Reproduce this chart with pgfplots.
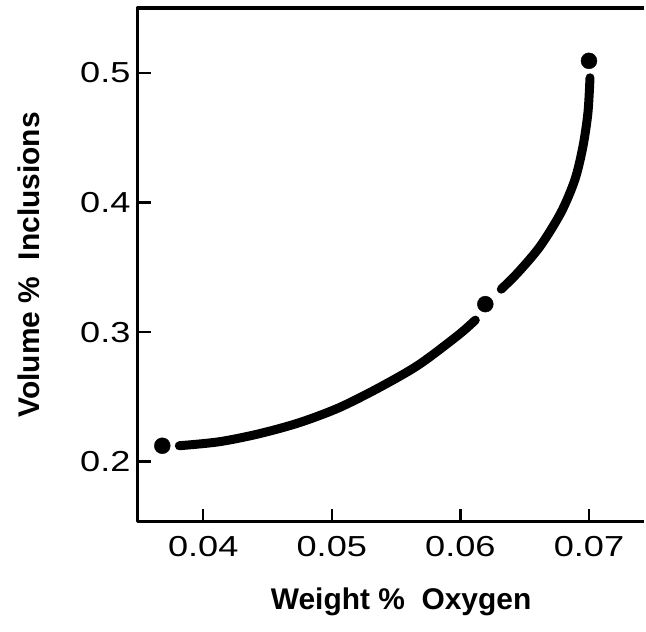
\documentclass[border=0pt]{standalone}
\usepackage{fontspec}
\setmainfont{Liberation Sans}
\newfontfamily\tickfont[FakeStretch=1.25]{Liberation Sans}
\usepackage{pgfplots}
\pgfplotsset{compat=1.18}
\begin{document}
\begin{tikzpicture}
\begin{axis}[
    scale only axis,
    width=508pt,
    height=515pt,
    xmin=0.0349, xmax=0.0743,
    ymin=0.1538, ymax=0.55,
    axis line style={draw=none},
    xtick={0.04,0.05,0.06,0.07},
    xticklabels={0.04,0.05,0.06,0.07},
    ytick={0.2,0.3,0.4,0.5},
    yticklabels={0.2,0.3,0.4,0.5},
    scaled ticks=false,
    tick align=inside,
    tick pos=left,
    major tick length=13pt,
    tick style={black, line width=2.5pt},
    ticklabel style={font=\tickfont\fontsize{29}{29}\selectfont, inner sep=0pt},
    yticklabel style={xshift=-7pt},
    xticklabel style={yshift=-15pt},
    xlabel={\bfseries Weight \%\ \ Oxygen},
    ylabel={\bfseries Volume \%\ \ Inclusions},
    label style={font=\fontsize{30}{30}\selectfont, inner sep=0pt},
    xlabel style={at={(axis description cs:0.52,-0.157)}, anchor=center},
    ylabel style={at={(axis description cs:-0.215,0.5)}, anchor=center, rotate=0},
    clip=false,
]
\coordinate (bl) at (rel axis cs:0,0);
\coordinate (tr) at (rel axis cs:1,1);
\draw[line width=3.5pt, line join=round]
    (rel axis cs:1,1) -- (rel axis cs:0,1) -- (rel axis cs:0,0) -- (rel axis cs:1,0);

% curve, lower part
\addplot[black, line width=9pt, line cap=round, smooth, tension=0.5] coordinates {
    (0.03814,0.21231)
    (0.04124,0.21538)
    (0.04434,0.22154)
    (0.04744,0.23000)
    (0.05054,0.24154)
    (0.05364,0.25692)
    (0.05674,0.27462)
    (0.05984,0.29769)
    (0.06116,0.30923)
};
% curve, upper part
\addplot[black, line width=9pt, line cap=round, smooth, tension=0.5] coordinates {
    (0.06318,0.33308)
    (0.06450,0.34615)
    (0.06620,0.36615)
    (0.06783,0.39231)
    (0.06891,0.41769)
    (0.06953,0.44308)
    (0.06992,0.46923)
    (0.07008,0.49615)
};
% measured points
\addplot[only marks, mark=*, mark size=8pt, black] coordinates {
    (0.03682,0.2123)
    (0.06194,0.32154)
    (0.07,0.50923)
};
\end{axis}
\path (bl) ++(-138pt,-110pt) rectangle ([yshift=8pt]tr);
\end{tikzpicture}
\end{document}
